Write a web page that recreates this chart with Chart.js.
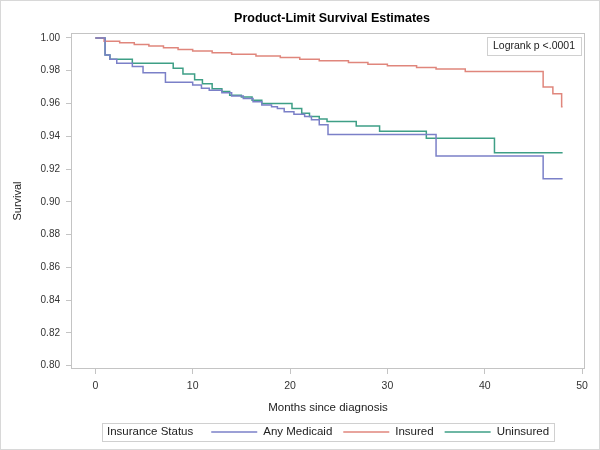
<!DOCTYPE html>
<html>
<head>
<meta charset="utf-8">
<script src="https://cdn.jsdelivr.net/npm/chart.js@4.4.1/dist/chart.umd.min.js"></script>
<style>
  html, body { margin: 0; padding: 0; background: #fff; }
  canvas { display: block; }
</style>
</head>
<body>
<canvas id="survival" width="600" height="450"></canvas>
<script>
// Kaplan-Meier step points (months, survival)
const medicaidTime = [0, 1.0, 1.5, 2.2, 3.8, 4.9, 7.2, 10.0, 10.9, 11.7, 13.0, 14.0, 15.2, 16.2, 17.1, 18.1, 18.7, 19.4, 20.4, 21.5, 22.2, 23.0, 23.9, 35.0, 46.0, 48.0];
const medicaidSurv = [1.0, 0.9896, 0.987, 0.9846, 0.9825, 0.9788, 0.973, 0.9713, 0.9693, 0.968, 0.9665, 0.9645, 0.963, 0.961, 0.959, 0.958, 0.957, 0.955, 0.9535, 0.952, 0.950, 0.947, 0.941, 0.928, 0.914, 0.914];

const insuredTime = [0, 0.9, 2.5, 4, 5.5, 7, 8.5, 10, 12, 14, 16.5, 19, 21, 23, 26, 28, 30, 33, 35, 38, 46, 47, 47.9, 48];
const insuredSurv = [1.0, 0.998, 0.997, 0.996, 0.995, 0.994, 0.993, 0.992, 0.991, 0.990, 0.989, 0.988, 0.987, 0.986, 0.985, 0.984, 0.983, 0.982, 0.981, 0.9795, 0.970, 0.966, 0.958, 0.958];

const uninsuredTime = [0, 1.0, 1.5, 3.8, 8.0, 9.0, 10.2, 11.0, 12.0, 13.0, 13.8, 15.0, 16.1, 17.1, 20.2, 21.2, 22.0, 23.0, 23.8, 26.8, 29.2, 34.0, 41.0, 48.0];
const uninsuredSurv = [1.0, 0.9896, 0.987, 0.9846, 0.9815, 0.978, 0.9745, 0.972, 0.969, 0.9673, 0.965, 0.964, 0.962, 0.960, 0.957, 0.954, 0.952, 0.9505, 0.949, 0.9463, 0.943, 0.9388, 0.930, 0.930];

const groupNames = ["Any Medicaid", "Insured", "Uninsured"];
const xTicks = [0, 10, 20, 30, 40, 50];
const yTicks = [0.80, 0.82, 0.84, 0.86, 0.88, 0.90, 0.92, 0.94, 0.96, 0.98, 1.00];

const colors = ["#7b80c8", "#e0867c", "#3e9f86"];
const frameColor = "#c4c4c4";
const fontFamily = "'Liberation Sans', Arial, sans-serif";

function toPoints(times, surv) {
   return times.map((t, i) => ({x: t, y: surv[i]}));
}

// frame, title, logrank box and the legend row
const decorations = {
   id: "decorations",
   afterDraw(chart) {
      const c = chart.ctx;
      const a = chart.chartArea;
      c.save();

      c.strokeStyle = "#d8d8d8";
      c.lineWidth = 1;
      c.strokeRect(0.5, 0.5, chart.width - 1, chart.height - 1);

      c.strokeStyle = frameColor;
      c.strokeRect(Math.round(a.left) + 0.5, Math.round(a.top) + 0.5,
         Math.round(a.right - a.left) - 1, Math.round(a.bottom - a.top) - 1);

      const midX = (a.left + a.right) / 2;
      c.fillStyle = "#000";
      c.font = "bold 12.5px " + fontFamily;
      c.textAlign = "center";
      c.textBaseline = "middle";
      c.fillText("Product-Limit Survival Estimates", midX + 4, 19);

      // logrank inset
      c.font = "10.5px " + fontFamily;
      const lr = "Logrank p <.0001";
      const lw = c.measureText(lr).width + 12;
      const bx = a.right - 4 - lw;
      const by = a.top + 4;
      c.fillStyle = "#fff";
      c.fillRect(bx, by, lw, 18);
      c.strokeStyle = "#d0d0d0";
      c.strokeRect(Math.round(bx) + 0.5, by + 0.5, Math.round(lw), 18);
      c.fillStyle = "#222";
      c.textAlign = "left";
      c.fillText(lr, bx + 6, by + 9.5);

      // legend
      c.font = "11.5px " + fontFamily;
      const legTitle = "Insurance Status";
      let total = c.measureText(legTitle).width + 18;
      groupNames.forEach(n => { total += 52 + c.measureText(n).width + 11; });
      total -= 11;
      const boxW = total + 10;
      const left = midX - boxW / 2;
      const ly = 432;
      c.strokeStyle = "#d0d0d0";
      c.strokeRect(Math.round(left) + 0.5, ly - 9 + 0.5, Math.round(boxW), 18);
      let x = left + 5;
      c.fillStyle = "#222";
      c.fillText(legTitle, x, ly);
      x += c.measureText(legTitle).width + 18;
      groupNames.forEach((n, i) => {
         c.strokeStyle = colors[i];
         c.lineWidth = 1.5;
         c.beginPath();
         c.moveTo(x, ly);
         c.lineTo(x + 46, ly);
         c.stroke();
         x += 52;
         c.fillStyle = "#222";
         c.fillText(n, x, ly);
         x += c.measureText(n).width + 11;
      });
      c.restore();
   },
};

const ctx = document.getElementById("survival").getContext("2d");
const survivalChart = new Chart(ctx, {
   type: "line",
   data: {
      datasets: [
         {
            label: groupNames[0],
            data: toPoints(medicaidTime, medicaidSurv),
            borderColor: colors[0],
         },
         {
            label: groupNames[1],
            data: toPoints(insuredTime, insuredSurv),
            borderColor: colors[1],
         },
         {
            label: groupNames[2],
            data: toPoints(uninsuredTime, uninsuredSurv),
            borderColor: colors[2],
         },
      ],
   },
   options: {
      responsive: false,
      animation: false,
      parsing: false,
      datasets: {
         line: {
            stepped: true,
            borderWidth: 1.5,
            pointRadius: 0,
            fill: false,
            tension: 0,
         },
      },
      layout: {padding: {top: 33, right: 15, bottom: 35, left: 0}},
      scales: {
         x: {
            type: "linear",
            min: -2.5,
            max: 50.3,
            afterBuildTicks: (s) => { s.ticks = xTicks.map(v => ({value: v})); },
            afterFit: (s) => { s.height = 46; },
            grid: {drawOnChartArea: false, tickLength: 5, color: frameColor},
            border: {display: false},
            ticks: {
               autoSkip: false,
               maxRotation: 0,
               padding: 6,
               color: "#333",
               font: {family: fontFamily, size: 10.5},
            },
            title: {
               display: true,
               text: "Months since diagnosis",
               color: "#222",
               padding: {top: 0, bottom: 0},
               font: {family: fontFamily, size: 11.5},
            },
         },
         y: {
            min: 0.798,
            max: 1.003,
            afterBuildTicks: (s) => { s.ticks = yTicks.map(v => ({value: v})); },
            afterFit: (s) => { s.width = 71; },
            grid: {drawOnChartArea: false, tickLength: 5, color: frameColor},
            border: {display: false},
            ticks: {
               autoSkip: false,
               padding: 6,
               color: "#333",
               font: {family: fontFamily, size: 10},
               callback: (v) => Number(v).toFixed(2),
            },
            title: {
               display: true,
               text: "Survival",
               color: "#222",
               padding: {top: 11, bottom: 0},
               font: {family: fontFamily, size: 11},
            },
         },
      },
      plugins: {
         legend: {display: false},
         title: {display: false},
         tooltip: {enabled: false},
      },
   },
   plugins: [decorations],
});
</script>
</body>
</html>
